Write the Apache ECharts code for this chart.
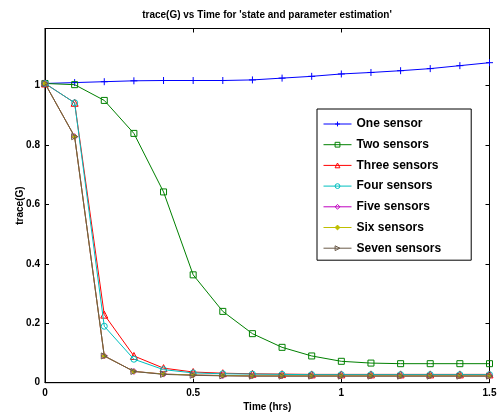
<!DOCTYPE html>
<html>
<head>
<meta charset="utf-8">
<script src="https://cdn.jsdelivr.net/npm/echarts@6/dist/echarts.min.js"></script>
<style>html,body{margin:0;padding:0;background:#fff;}#c{width:497px;height:412px;}</style>
</head>
<body>
<div id="c"></div>
<script>
var time = [0,0.1,0.2,0.3,0.4,0.5,0.6,0.7,0.8,0.9,1.0,1.1,1.2,1.3,1.4,1.5];
var seriesNames = ['One sensor','Two sensors','Three sensors','Four sensors','Five sensors','Six sensors','Seven sensors'];
var oneSensor   = [1.007,1.010,1.013,1.016,1.017,1.017,1.017,1.019,1.025,1.031,1.039,1.044,1.050,1.057,1.067,1.077];
var twoSensors  = [1.007,1.003,0.950,0.839,0.642,0.363,0.240,0.165,0.119,0.090,0.072,0.066,0.064,0.064,0.064,0.064];
var threeSensors= [1.007,0.942,0.229,0.090,0.049,0.036,0.032,0.030,0.029,0.028,0.028,0.028,0.028,0.028,0.028,0.028];
var fourSensors = [1.007,0.942,0.190,0.079,0.044,0.033,0.030,0.029,0.028,0.027,0.027,0.027,0.027,0.027,0.027,0.027];
var fiveSensors = [1.007,0.828,0.090,0.038,0.029,0.026,0.024,0.023,0.023,0.023,0.023,0.023,0.023,0.023,0.023,0.023];
var sixSensors  = [1.007,0.828,0.090,0.038,0.029,0.026,0.024,0.023,0.023,0.023,0.023,0.023,0.023,0.023,0.023,0.023];
var sevenSensors= [1.007,0.828,0.090,0.038,0.028,0.025,0.023,0.022,0.022,0.022,0.022,0.022,0.022,0.022,0.022,0.022];
var xTicks = [0, 0.5, 1, 1.5];
var yTicks = [0, 0.2, 0.4, 0.6, 0.8, 1];

var allData = [oneSensor,twoSensors,threeSensors,fourSensors,fiveSensors,sixSensors,sevenSensors];
var colors = ['#0000ff','#008000','#ff0000','#00bfbf','#bf00bf','#bfbf00','#6a5a48'];
var symbols = [
  'path://M5,0L5,10M0,5L10,5',
  'rect',
  'triangle',
  'circle',
  'diamond',
  'diamond',
  'path://M0,0L10,5L0,10Z'
];
var sizes = [7,6,7,6,6,5,6];
var FONT = '"Liberation Sans", Arial, Helvetica, sans-serif';

var series = seriesNames.map(function(n,i){
  return {
    name: n,
    type: 'line',
    data: time.map(function(t,k){ return [t, allData[i][k]]; }),
    symbol: symbols[i],
    symbolSize: sizes[i],
    showAllSymbol: true,
    lineStyle: {color: colors[i], width: 1},
    itemStyle: {color: i===5 ? colors[i] : 'rgba(255,255,255,0)', borderColor: colors[i], borderWidth: 1},
    emphasis: {disabled: true},
    animation: false,
    z: 2 + i
  };
});

var chart = echarts.init(document.getElementById('c'));
chart.setOption({
  backgroundColor: '#fff',
  animation: false,
  title: {
    text: "trace(G) vs Time for 'state and parameter estimation'",
    left: 267, top: 10, textAlign: 'center', padding: 0,
    textStyle: {fontFamily: FONT, fontSize: 10, fontWeight: 'bold', color: '#000'}
  },
  legend: {
    orient: 'vertical',
    left: 317, top: 109,
    data: seriesNames,
    itemWidth: 28, itemHeight: 6, itemGap: 8.7,
    padding: [9, 30, 6, 6],
    backgroundColor: '#fff',
    borderColor: '#000', borderWidth: 1,
    lineStyle: {width: 1},
    itemStyle: {borderWidth: 1},
    textStyle: {fontFamily: FONT, fontSize: 12, fontWeight: 'bold', color: '#000'},
    selectedMode: false
  },
  grid: {left: 45, right: 7.5, top: 28.5, bottom: 29.3, containLabel: false, outerBoundsMode: 'none',
    show: true, borderColor: '#000', borderWidth: 1, backgroundColor: 'rgba(0,0,0,0)'},
  xAxis: [{
    type: 'value', min: 0, max: 1.5, interval: 0.5, position: 'bottom',
    name: 'Time (hrs)', nameLocation: 'middle', nameGap: 20, nameMoveOverlap: false,
    nameTextStyle: {fontFamily: FONT, fontSize: 10, fontWeight: 'bold', color: '#000'},
    axisLine: {show: true, onZero: false, lineStyle: {color: '#000', width: 1}},
    axisTick: {show: true, inside: true, length: 4, lineStyle: {color: '#000'}},
    axisLabel: {fontFamily: FONT, fontSize: 10, fontWeight: 'bold', color: '#000', margin: 6,
      formatter: function(v){ return String(v); }},
    splitLine: {show: false}
  },{
    type: 'value', min: 0, max: 1.5, interval: 0.5, position: 'top',
    axisLine: {show: true, onZero: false, lineStyle: {color: '#000', width: 1}},
    axisTick: {show: true, inside: true, length: 4, lineStyle: {color: '#000'}},
    axisLabel: {show: false}, splitLine: {show: false}
  }],
  yAxis: [{
    type: 'value', min: 0, max: 1.192, interval: 0.2, position: 'left',
    name: 'trace(G)', nameLocation: 'middle', nameGap: 20, nameRotate: 90, nameMoveOverlap: false,
    nameTextStyle: {fontFamily: FONT, fontSize: 10, fontWeight: 'bold', color: '#000'},
    axisLine: {show: true, onZero: false, lineStyle: {color: '#000', width: 1}},
    axisTick: {show: true, inside: true, length: 4, lineStyle: {color: '#000'}},
    axisLabel: {fontFamily: FONT, fontSize: 10, fontWeight: 'bold', color: '#000', margin: 5,
      showMaxLabel: false, formatter: function(v){ var r = Math.round(v*10)/10; return yTicks.indexOf(r) >= 0 ? String(r) : ''; }},
    splitLine: {show: false}
  },{
    type: 'value', min: 0, max: 1.192, interval: 0.2, position: 'right',
    axisLine: {show: true, onZero: false, lineStyle: {color: '#000', width: 1}},
    axisTick: {show: true, inside: true, length: 4, lineStyle: {color: '#000'}},
    axisLabel: {show: false}, splitLine: {show: false}
  }],
  series: series
});
</script>
</body>
</html>
